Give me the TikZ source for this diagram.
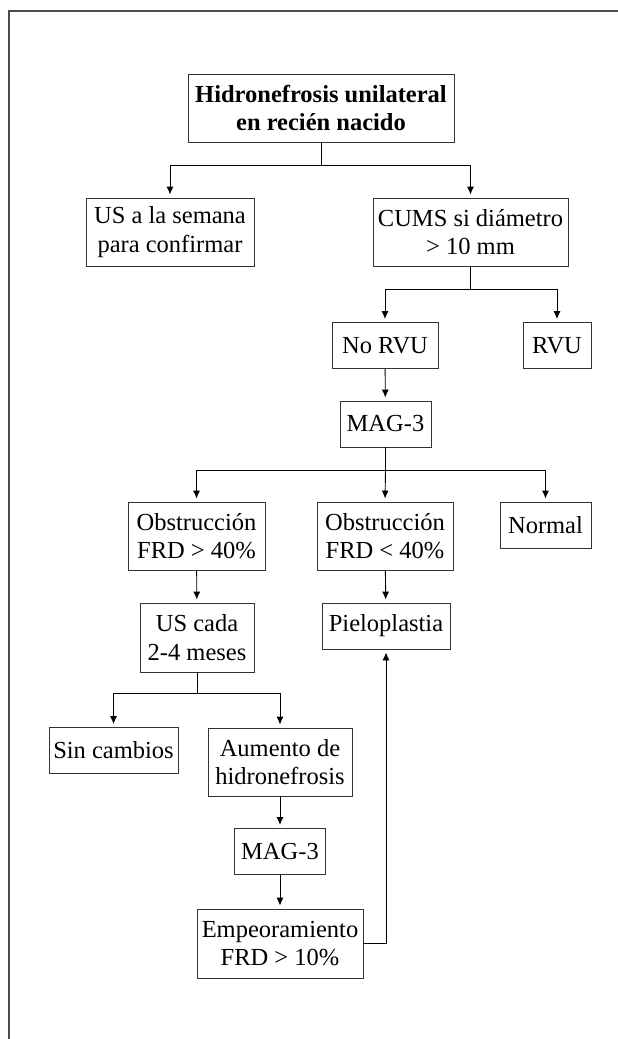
\documentclass[tikz,border=0pt]{standalone}
\usepackage{fontspec}
\setmainfont{Liberation Serif}
\usepackage{tikz}
\usetikzlibrary{arrows.meta}

\tikzset{
  caja/.style={draw=black!80, line width=0.9pt, align=center, inner sep=0pt,
    font=\fontsize{24.5}{28.5}\selectfont},
  flecha/.style={-{Latex[length=8pt,width=7pt]}, line width=0.9pt, shorten >=3pt},
  linea/.style={line width=0.9pt}
}

\begin{document}
\begin{tikzpicture}[x=1pt,y=-1pt]
        \useasboundingbox (0,0) rectangle (618,1039);
        % marco
        \draw[line width=1.2pt, black!70] (9,1039) -- (9,11) -- (618,11);
        % nodos
        \node[caja, minimum width=266, minimum height=68](hidro) at (321,108) {\bfseries Hidronefrosis unilateral\\\bfseries en recién nacido};
        \node[caja, minimum width=168, minimum height=68](semana) at (170,232) {US a la semana\\para confirmar};
        \node[caja, minimum width=195, minimum height=68](cums) at (470.5,232) {CUMS si diámetro\\> 10 mm};
        \node[caja, minimum width=106, minimum height=46](norvu) at (385,345.5) {No RVU};
        \node[caja, minimum width=68, minimum height=46](rvu) at (557,345.5) {RVU};
        \node[caja, minimum width=91, minimum height=46](maga) at (385.5,424) {MAG-3};
        \node[caja, minimum width=137, minimum height=68](obsa) at (196.5,536) {Obstrucción\\FRD > 40\%};
        \node[caja, minimum width=136, minimum height=68](obsb) at (385,536) {Obstrucción\\FRD < 40\%};
        \node[caja, minimum width=91, minimum height=46](normal) at (545.5,525) {Normal};
        \node[caja, minimum width=114, minimum height=69](uscada) at (197,637.5) {US cada\\2-4 meses};
        \node[caja, minimum width=128, minimum height=46](pielo) at (386,626) {Pieloplastia};
        \node[caja, minimum width=129, minimum height=46](sin) at (113.5,750.5) {Sin cambios};
        \node[caja, minimum width=144, minimum height=68](aumento) at (280,762) {Aumento de\\hidronefrosis};
        \node[caja, minimum width=91, minimum height=46](magb) at (280,851.5) {MAG-3};
        \node[caja, minimum width=166, minimum height=69](empeor) at (280,943.5) {Empeoramiento\\FRD > 10\%};
        % conexiones
        \draw[linea](hidro.south) -- ++(0,23) coordinate(ra);
        \draw[flecha](ra) -| (semana.north);
        \draw[flecha](ra) -| (cums.north);
        \draw[linea](cums.south) -- ++(0,23) coordinate(rb);
        \draw[flecha](rb) -| (norvu.north);
        \draw[flecha](rb) -| (rvu.north);
        \draw[flecha](norvu) -- (maga);
        \draw[linea](maga.south) -- ++(0,22.5) coordinate(rc);
        \draw[flecha](rc) -| (obsa.north);
        \draw[flecha](rc) -- (obsb.north);
        \draw[flecha](rc) -| (normal.north);
        \draw[flecha](obsa) -- (uscada);
        \draw[flecha](obsb) -- (pielo);
        \draw[linea](uscada.south) -- ++(0,21) coordinate(rd);
        \draw[flecha](rd) -| (sin.north);
        \draw[flecha](rd) -| (aumento.north);
        \draw[flecha](aumento) -- (magb);
        \draw[flecha](magb) -- (empeor);
        \draw[flecha](empeor.east) -| (pielo.south);
        \end{tikzpicture}
\end{document}
